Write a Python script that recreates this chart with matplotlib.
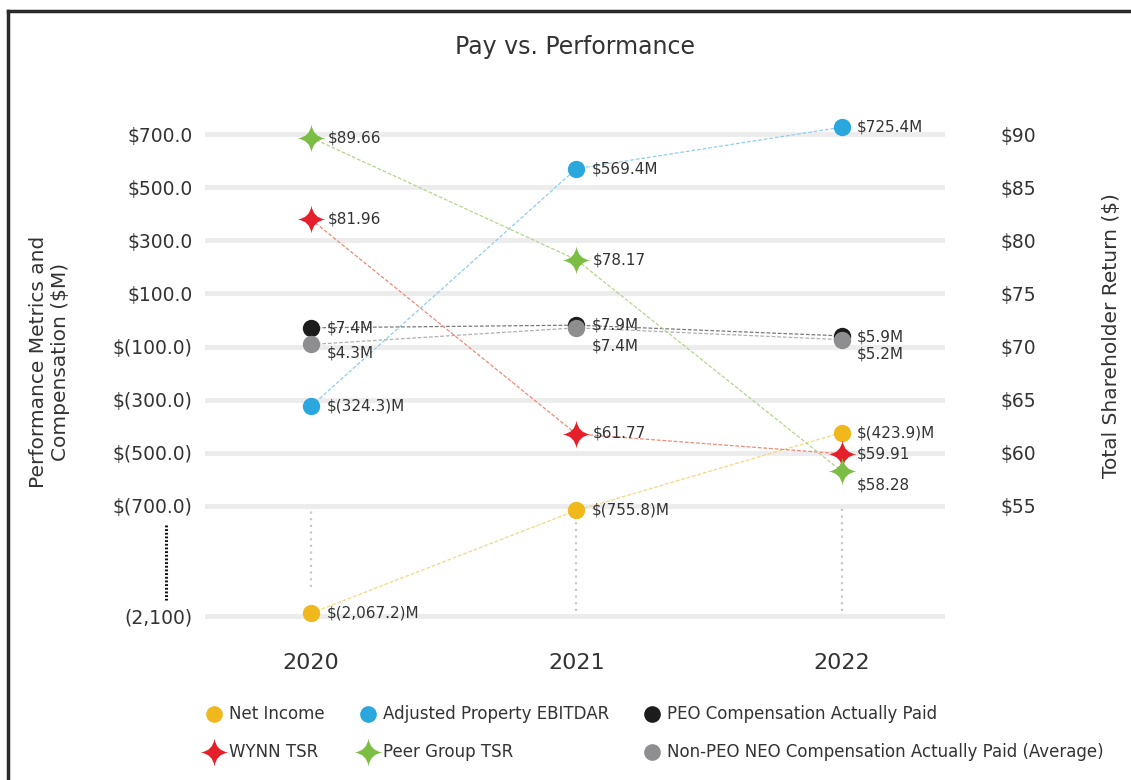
import numpy as np
import matplotlib
matplotlib.use('Agg')
import matplotlib.pyplot as plt
from matplotlib.path import Path
from matplotlib.lines import Line2D

# data
years = [2020, 2021, 2022]
net_income = [-2067.2, -755.8, -423.9]
ebitdar = [-324.3, 569.4, 725.4]
peo_cap = [7.4, 7.9, 5.9]
non_peo_cap = [4.3, 7.4, 5.2]
wynn_tsr = [81.96, 61.77, 59.91]
peer_tsr = [89.66, 78.17, 58.28]

net_income_labels = ['$(2,067.2)M', '$(755.8)M', '$(423.9)M']
ebitdar_labels = ['$(324.3)M', '$569.4M', '$725.4M']
peo_labels = ['$7.4M', '$7.9M', '$5.9M']
non_peo_labels = ['$4.3M', '$7.4M', '$5.2M']
wynn_labels = ['$81.96', '$61.77', '$59.91']
peer_labels = ['$89.66', '$78.17', '$58.28']

left_ticks = [-2100, -700, -500, -300, -100, 100, 300, 500, 700]
left_ticklabels = ['(2,100)', '$(700.0)', '$(500.0)', '$(300.0)', '$(100.0)',
                   '$100.0', '$300.0', '$500.0', '$700.0']
right_ticks = [55, 60, 65, 70, 75, 80, 85, 90]

YELLOW = '#f0b81c'
BLUE = '#2aa8de'
BLACK = '#1c1c1c'
GRAY = '#8e8e90'
RED = '#e5202b'
GREEN = '#7cbd44'
TXT = '#333333'

plt.rcParams['font.family'] = 'DejaVu Sans'

# broken axis below -700
K = 0.295


def fwd(v):
    v = np.asarray(v, dtype=float)
    return np.where(v >= -700, v, -700 + (v + 700) * K)


def inv(t):
    t = np.asarray(t, dtype=float)
    return np.where(t >= -700, t, -700 + (t + 700) / K)


# four point sparkle marker
star = Path([(0, 1), (0.12, 0.12), (1, 0), (0.12, -0.12), (0, -1),
             (-0.12, -0.12), (-1, 0), (-0.12, 0.12), (0, 1), (0, 1)],
            [Path.MOVETO, Path.CURVE3, Path.CURVE3, Path.CURVE3, Path.CURVE3,
             Path.CURVE3, Path.CURVE3, Path.CURVE3, Path.CURVE3, Path.CLOSEPOLY])

fig = plt.figure(figsize=(11.31, 7.8), dpi=100)
ax = fig.add_axes([205 / 1131, 1 - 625 / 780, 740 / 1131, 525 / 780])
ax.set_yscale('function', functions=(fwd, inv))
ax.set_ylim(float(inv(-1148)), 828)
ax.set_xlim(2019.6, 2022.39)

ax.set_yticks(left_ticks)
ax.set_yticklabels(left_ticklabels)
ax.yaxis.grid(True, color='#ececec', linewidth=3.5)
ax.set_axisbelow(True)
ax.set_xticks(years)
ax.set_xticklabels([str(y) for y in years])
ax.tick_params(axis='y', length=0, pad=9, labelsize=13.5, labelcolor=TXT)
ax.tick_params(axis='x', length=0, pad=20, labelsize=16, labelcolor=TXT)
for s in ax.spines.values():
    s.set_visible(False)
ax.minorticks_off()

# dotted drop lines
drop_top = [-735, -876, -697]
drop_bot = [-1736, -2045, -2045]
ax.vlines(years, drop_bot, drop_top, colors='#c8c8c8', linestyles=(0, (1, 2)), linewidth=1.6)

dash = (0, (3, 1.5))
ax.plot(years, net_income, color='#f6d77c', lw=0.9, ls=dash, zorder=2)
ax.plot(years, ebitdar, color='#92cdee', lw=0.9, ls=dash, zorder=2)
ax.plot(years, net_income, 'o', color=YELLOW, ms=12.5, mec='none', zorder=4)
ax.plot(years, ebitdar, 'o', color=BLUE, ms=12.5, mec='none', zorder=4)

off = 11
for x, v, l in zip(years, net_income, net_income_labels):
    ax.annotate(l, (x, v), xytext=(off, 0), textcoords='offset points',
                va='center', ha='left', fontsize=11, color=TXT)
for x, v, l in zip(years, ebitdar, ebitdar_labels):
    ax.annotate(l, (x, v), xytext=(off, 0), textcoords='offset points',
                va='center', ha='left', fontsize=11, color=TXT)

# compensation on its own hidden scale
ax3 = ax.twinx()
ax3.set_ylim(-47.97, 49.85)
ax3.axis('off')
ax3.plot(years, peo_cap, color='#7a7a7a', lw=0.9, ls=dash, zorder=2)
ax3.plot(years, non_peo_cap, color='#b0b0b0', lw=0.9, ls=dash, zorder=2)
ax3.plot(years, peo_cap, 'o', color=BLACK, ms=12.5, mec='none', zorder=4)
ax3.plot(years, non_peo_cap, 'o', color=GRAY, ms=12.5, mec='none', zorder=5)
peo_off = [(off, 0), (off, 0), (off, -1)]
non_off = [(off, -6), (off, -13), (off, -10)]
for x, v, l, o in zip(years, peo_cap, peo_labels, peo_off):
    ax3.annotate(l, (x, v), xytext=o, textcoords='offset points',
                 va='center', ha='left', fontsize=11, color=TXT)
for x, v, l, o in zip(years, non_peo_cap, non_peo_labels, non_off):
    ax3.annotate(l, (x, v), xytext=o, textcoords='offset points',
                 va='center', ha='left', fontsize=11, color=TXT)

# TSR on right axis
ax2 = ax.twinx()
ax2.set_ylim(43.8, 93.2)
ax2.set_yticks(right_ticks)
ax2.set_yticklabels(['$%d' % t for t in right_ticks])
ax2.tick_params(axis='y', length=0, pad=40, labelsize=13.5, labelcolor=TXT)
for s in ax2.spines.values():
    s.set_visible(False)
ax2.plot(years, wynn_tsr, color='#f08a78', lw=0.9, ls=dash, zorder=2)
ax2.plot(years, peer_tsr, color='#b2d68e', lw=0.9, ls=dash, zorder=2)
ax2.plot(years, wynn_tsr, marker=star, ls='none', color=RED, ms=20, mew=0, zorder=4)
ax2.plot(years, peer_tsr, marker=star, ls='none', color=GREEN, ms=20, mew=0, zorder=5)
wynn_off = [(12, 0), (12, 1), (11, 0)]
peer_off = [(12, 0), (12, 0), (11, -10)]
for x, v, l, o in zip(years, wynn_tsr, wynn_labels, wynn_off):
    ax2.annotate(l, (x, v), xytext=o, textcoords='offset points',
                 va='center', ha='left', fontsize=11, color=TXT)
for x, v, l, o in zip(years, peer_tsr, peer_labels, peer_off):
    ax2.annotate(l, (x, v), xytext=o, textcoords='offset points',
                 va='center', ha='left', fontsize=11, color=TXT)

# titles and axis labels
fig.text(0.508, 1 - 47 / 780, 'Pay vs. Performance', ha='center', va='center',
         fontsize=17, color=TXT)
fig.text(50 / 1131, 1 - 362 / 780, 'Performance Metrics and\nCompensation ($M)',
         rotation=90, ha='center', va='center', fontsize=14.5, color=TXT, linespacing=1.2)
fig.text(1112 / 1131, 1 - 336 / 780, 'Total Shareholder Return ($)',
         rotation=90, ha='center', va='center', fontsize=14.5, color=TXT)

# break marker and frame
fig.add_artist(Line2D([166 / 1131] * 2, [1 - 525 / 780, 1 - 600 / 780],
                      color='#111111', lw=2.2, ls=(0, (0.6, 0.6))))
fig.add_artist(Line2D([8 / 1131, 1], [1 - 11 / 780] * 2, color='#2a2a2a', lw=2.5))
fig.add_artist(Line2D([8 / 1131] * 2, [0, 1 - 11 / 780], color='#2a2a2a', lw=2.5))

# legend
handles = [
    Line2D([], [], marker='o', ls='none', color=YELLOW, ms=12, mec='none', label='Net Income'),
    Line2D([], [], marker=star, ls='none', color=RED, ms=20, mew=0, label='WYNN TSR'),
    Line2D([], [], marker='o', ls='none', color=BLUE, ms=12, mec='none', label='Adjusted Property EBITDAR'),
    Line2D([], [], marker=star, ls='none', color=GREEN, ms=20, mew=0, label='Peer Group TSR'),
    Line2D([], [], marker='o', ls='none', color=BLACK, ms=12, mec='none', label='PEO Compensation Actually Paid'),
    Line2D([], [], marker='o', ls='none', color=GRAY, ms=12, mec='none',
           label='Non-PEO NEO Compensation Actually Paid (Average)'),
]
fig.legend(handles=handles, ncol=3, loc='upper left',
           bbox_to_anchor=(197 / 1131, 1 - 697 / 780), frameon=False,
           fontsize=12, handlelength=1.0, handletextpad=0.4, columnspacing=2.1,
           labelspacing=1.2, borderpad=0, labelcolor=TXT)

fig.savefig('out.png', dpi=100)
